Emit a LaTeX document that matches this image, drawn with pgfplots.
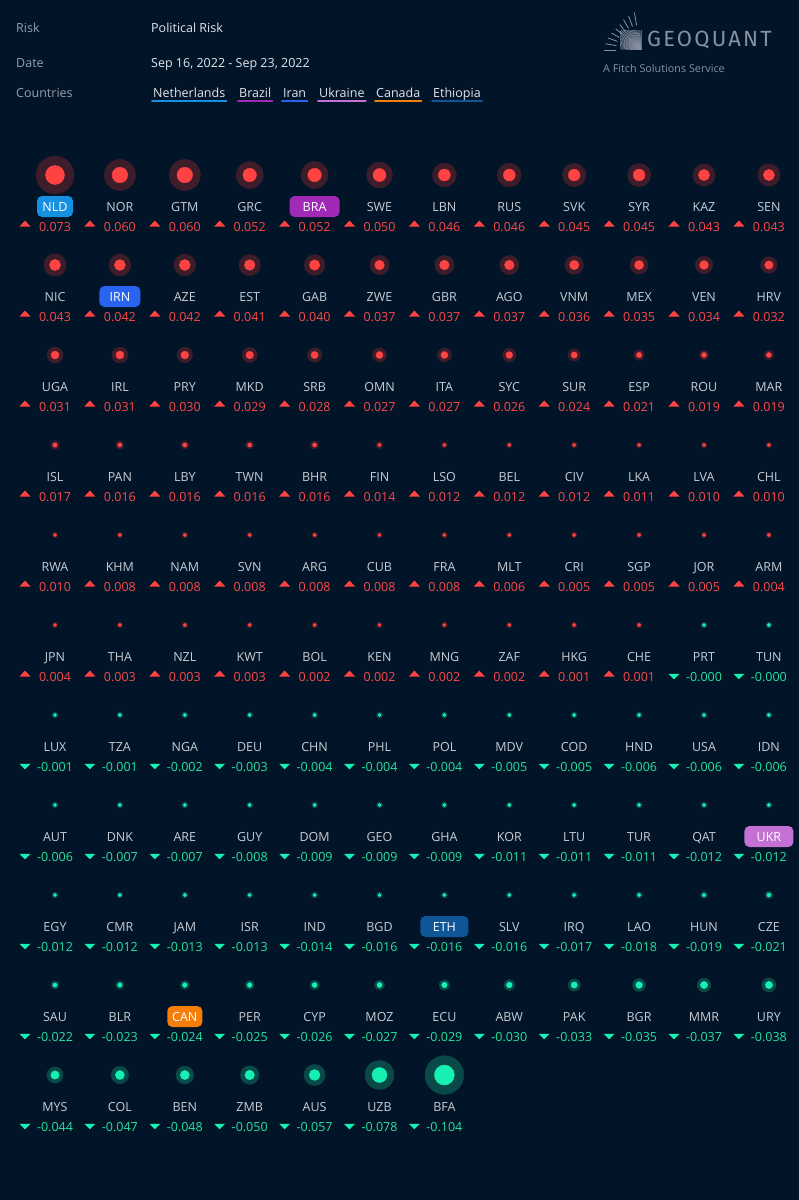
\documentclass[border=0pt]{standalone}
\usepackage{pgfplots}
\pgfplotsset{compat=1.18}
\usepackage{pgfplotstable}
\usepackage{fontspec}
\setmainfont{Open Sans}
\newfontfamily\logofont[LetterSpace=10]{Fira Sans}

\definecolor{bg}{RGB}{1,20,40}
\definecolor{redDot}{RGB}{255,66,66}
\definecolor{redHalo}{RGB}{62,29,43}
\definecolor{grnDot}{RGB}{22,240,178}
\definecolor{grnHalo}{RGB}{9,74,72}
\definecolor{redTxt}{RGB}{255,72,72}
\definecolor{grnTxt}{RGB}{38,228,160}
\definecolor{lblGray}{RGB}{200,205,212}
\definecolor{hdrGray}{RGB}{150,160,172}
\definecolor{hdrWhite}{RGB}{226,230,236}
\definecolor{logoGray}{RGB}{135,146,160}
\definecolor{cNLD}{RGB}{24,144,226}
\definecolor{cBRA}{RGB}{160,42,182}
\definecolor{cIRN}{RGB}{40,100,240}
\definecolor{cUKR}{RGB}{196,112,212}
\definecolor{cCAN}{RGB}{245,125,10}
\definecolor{cETH}{RGB}{14,86,152}

\pgfdeclareplotmark{tup}{\pgfpathmoveto{\pgfqpoint{-5.5pt}{-3pt}}\pgfpathlineto{\pgfqpoint{5.5pt}{-3pt}}\pgfpathlineto{\pgfqpoint{0pt}{3pt}}\pgfpathclose\pgfusepathqfill}
\pgfdeclareplotmark{tdown}{\pgfpathmoveto{\pgfqpoint{-5.5pt}{2.75pt}}\pgfpathlineto{\pgfqpoint{5.5pt}{2.75pt}}\pgfpathlineto{\pgfqpoint{0pt}{-2.75pt}}\pgfpathclose\pgfusepathqfill}

\pgfplotstableread{
c r name v
0 0 NLD 0.073
1 0 NOR 0.060
2 0 GTM 0.060
3 0 GRC 0.052
4 0 BRA 0.052
5 0 SWE 0.050
6 0 LBN 0.046
7 0 RUS 0.046
8 0 SVK 0.045
9 0 SYR 0.045
10 0 KAZ 0.043
11 0 SEN 0.043
0 1 NIC 0.043
1 1 IRN 0.042
2 1 AZE 0.042
3 1 EST 0.041
4 1 GAB 0.040
5 1 ZWE 0.037
6 1 GBR 0.037
7 1 AGO 0.037
8 1 VNM 0.036
9 1 MEX 0.035
10 1 VEN 0.034
11 1 HRV 0.032
0 2 UGA 0.031
1 2 IRL 0.031
2 2 PRY 0.030
3 2 MKD 0.029
4 2 SRB 0.028
5 2 OMN 0.027
6 2 ITA 0.027
7 2 SYC 0.026
8 2 SUR 0.024
9 2 ESP 0.021
10 2 ROU 0.019
11 2 MAR 0.019
0 3 ISL 0.017
1 3 PAN 0.016
2 3 LBY 0.016
3 3 TWN 0.016
4 3 BHR 0.016
5 3 FIN 0.014
6 3 LSO 0.012
7 3 BEL 0.012
8 3 CIV 0.012
9 3 LKA 0.011
10 3 LVA 0.010
11 3 CHL 0.010
0 4 RWA 0.010
1 4 KHM 0.008
2 4 NAM 0.008
3 4 SVN 0.008
4 4 ARG 0.008
5 4 CUB 0.008
6 4 FRA 0.008
7 4 MLT 0.006
8 4 CRI 0.005
9 4 SGP 0.005
10 4 JOR 0.005
11 4 ARM 0.004
0 5 JPN 0.004
1 5 THA 0.003
2 5 NZL 0.003
3 5 KWT 0.003
4 5 BOL 0.002
5 5 KEN 0.002
6 5 MNG 0.002
7 5 ZAF 0.002
8 5 HKG 0.001
9 5 CHE 0.001
}\pos

\pgfplotstableread{
c r name v
10 5 PRT -0.000
11 5 TUN -0.000
0 6 LUX -0.001
1 6 TZA -0.001
2 6 NGA -0.002
3 6 DEU -0.003
4 6 CHN -0.004
5 6 PHL -0.004
6 6 POL -0.004
7 6 MDV -0.005
8 6 COD -0.005
9 6 HND -0.006
10 6 USA -0.006
11 6 IDN -0.006
0 7 AUT -0.006
1 7 DNK -0.007
2 7 ARE -0.007
3 7 GUY -0.008
4 7 DOM -0.009
5 7 GEO -0.009
6 7 GHA -0.009
7 7 KOR -0.011
8 7 LTU -0.011
9 7 TUR -0.011
10 7 QAT -0.012
11 7 UKR -0.012
0 8 EGY -0.012
1 8 CMR -0.012
2 8 JAM -0.013
3 8 ISR -0.013
4 8 IND -0.014
5 8 BGD -0.016
6 8 ETH -0.016
7 8 SLV -0.016
8 8 IRQ -0.017
9 8 LAO -0.018
10 8 HUN -0.019
11 8 CZE -0.021
0 9 SAU -0.022
1 9 BLR -0.023
2 9 CAN -0.024
3 9 PER -0.025
4 9 CYP -0.026
5 9 MOZ -0.027
6 9 ECU -0.029
7 9 ABW -0.030
8 9 PAK -0.033
9 9 BGR -0.035
10 9 MMR -0.037
11 9 URY -0.038
0 10 MYS -0.044
1 10 COL -0.047
2 10 BEN -0.048
3 10 ZMB -0.050
4 10 AUS -0.057
5 10 UZB -0.078
6 10 BFA -0.104
}\negt

\newcommand\hl[5]{\addplot[only marks, mark=none, nodes near coords={#3}, nodes near coords align={anchor=center},
  every node near coord/.append style={fill=#4, text=white, rounded corners=5pt, minimum width=#5, minimum height=21pt, text height=9pt, text depth=0pt, inner sep=0pt}] coordinates {(#1,#2)};}

\pgfplotsset{
  dot/.style 2 args={scatter, only marks, mark=*, color=#1, scatter/use mapped color={draw=none, fill=#1},
    point meta={abs(\thisrow{v})},
    scatter/@pre marker code/.append style={/tikz/mark size={#2}}},
  txt/.style 2 args={only marks, mark=none, point meta=explicit symbolic,
    nodes near coords={\pgfplotspointmeta}, nodes near coords align={anchor=base},
    every node near coord/.append style={yshift=#1, text=#2}},
}

\begin{document}
\begin{tikzpicture}[font=\fontsize{12.5}{15}\selectfont]
\fill[bg] (0,0) rectangle (799pt,1200pt);
\begin{axis}[at={(0pt,0pt)}, anchor=south west, width=799pt, height=1200pt, scale only axis,
  xmin=-0.84746, xmax=11.46379, ymin=-1.94444, ymax=11.38889, y dir=reverse, hide axis, clip=false,
  point meta min=0, point meta max=1]

% positive
\addplot[dot={redHalo}{max(3,0.26*\pgfplotspointmetatransformed)}] table[x=c, y=r]{\pos};
\addplot[dot={redDot}{max(1.7,0.13*\pgfplotspointmetatransformed)}] table[x=c, y=r]{\pos};
\addplot[txt={-36pt}{lblGray}] table[x=c, y=r, meta=name]{\pos};
\addplot[txt={-56pt}{redTxt}] table[x=c, y=r, meta=v]{\pos};
\addplot[only marks, mark=tup, mark options={fill=redDot, draw=none}]
  table[x expr={\thisrow{c}-0.46225}, y expr={\thisrow{r}+0.53889}]{\pos};

% negative
\addplot[dot={grnHalo}{max(3,0.186*\pgfplotspointmetatransformed)}] table[x=c, y=r]{\negt};
\addplot[dot={grnDot}{max(1.7,0.096*\pgfplotspointmetatransformed)}] table[x=c, y=r]{\negt};
\addplot[txt={-36pt}{lblGray}] table[x=c, y=r, meta=name]{\negt};
\addplot[txt={-56pt}{grnTxt}] table[x=c, y=r, meta=v]{\negt};
\addplot[only marks, mark=tdown, mark options={fill=grnDot, draw=none}]
  table[x expr={\thisrow{c}-0.46225}, y expr={\thisrow{r}+0.57222}]{\negt};

% highlighted countries
\hl{0}{0.35}{NLD}{cNLD}{36pt}
\hl{4}{0.35}{BRA}{cBRA}{50pt}
\hl{1}{1.35}{IRN}{cIRN}{41pt}
\hl{11}{7.35}{UKR}{cUKR}{49pt}
\hl{6}{8.35}{ETH}{cETH}{48pt}
\hl{2}{9.35}{CAN}{cCAN}{35pt}
\end{axis}

% header (canvas: x, 1200-y)
\begin{scope}[x=1pt,y=1pt]
\node[anchor=base west, inner sep=0pt, text=hdrGray] at (16,1167) {Risk};
\node[anchor=base west, inner sep=0pt, text=hdrWhite] at (151,1167) {Political Risk};
\node[anchor=base west, inner sep=0pt, text=hdrGray] at (16,1132) {Date};
\node[anchor=base west, inner sep=0pt, text=hdrWhite] at (151,1132) {Sep 16, 2022 - Sep 23, 2022};
\node[anchor=base west, inner sep=0pt, text=hdrGray] at (16,1102.5) {Countries};
\foreach \t/\xx/\cc/\nm in {Netherlands/153/cNLD/a, Brazil/239/cBRA/b, Iran/283/cIRN/c, Ukraine/319/cUKR/d, Canada/376/cCAN/e, Ethiopia/433/cETH/f}{
  \node[anchor=base west, inner sep=0pt, text=hdrWhite] (\nm) at (\xx,1102.5) {\t};
  \draw[\cc, line width=2pt, line cap=round] ([xshift=-1pt,yshift=-3.5pt]\nm.base west) -- ([xshift=1pt,yshift=-3.5pt]\nm.base east);
}
% logo
\node[anchor=base west, inner sep=0pt, text=logoGray, font=\logofont\fontsize{22}{24}\selectfont] at (647,1153) {GEOQUANT};
\node[anchor=base west, inner sep=0pt, text=logoGray, font=\fontsize{10.8}{13}\selectfont] at (603,1127) {A Fitch Solutions Service};
\begin{scope}
\clip (620,1150) rectangle (641.5,1169.5);
\foreach \a in {90,93,...,180} \draw[logoGray, line width=0.55pt] (641,1150) -- ++(\a:30);
\end{scope}
\foreach \a/\l in {100/13,110/11,120/10,130/8,140/8,150/9,160/10,170/11,180/12}
  \draw[logoGray, line width=0.8pt] (641,1150) ++(\a:25) -- ++(\a:\l);
\end{scope}
\end{tikzpicture}
\end{document}
